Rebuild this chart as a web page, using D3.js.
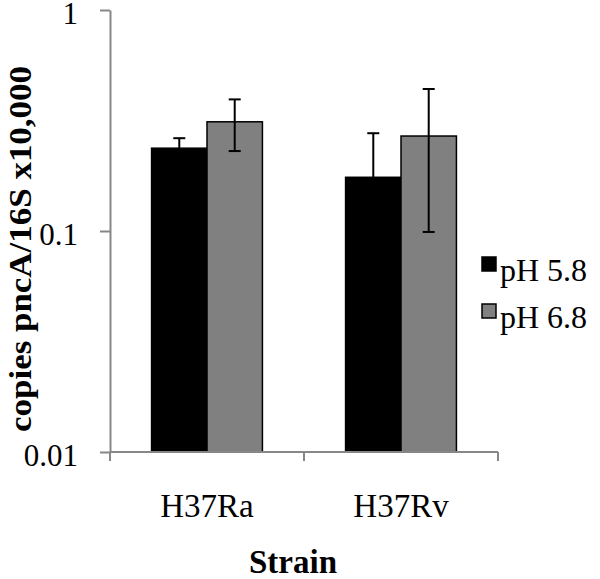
<!DOCTYPE html>
<meta charset="utf-8">
<title>pncA copies by strain</title>
<style>
  body { margin: 0; background: #fff; }
  text { font-family: "Liberation Serif", "Times New Roman", serif; }
</style>
<body>
<script src="https://d3js.org/d3.v7.min.js"></script>
<script>

var categories = ["H37Ra", "H37Rv"];
var seriesNames = ["pH 5.8", "pH 6.8"];
var means58 = [0.237, 0.175];
var means68 = [0.312, 0.269];
var err58 = [0.026, 0.102];
var err68 = [0.082, 0.170];
var yTicks = [0.01, 0.1, 1];
var yTickLabels = ["0.01", "0.1", "1"];

var colors = ["#000000", "#808080"];
var axisColor = "#878787";

var width = 600, height = 579;

var svg = d3.select("body").append("svg")
    .attr("width", width)
    .attr("height", height);

var y = d3.scaleLog().domain([0.01, 1]).range([452, 10]);
var x = d3.scaleBand().domain(categories).range([110, 498]).padding(0);
var xs = d3.scaleBand().domain(seriesNames).range([0, x.bandwidth()])
    .paddingInner(0).paddingOuter(0.75);

// build rows from the arrays
var rows = [];
categories.forEach(function(c, i) {
  rows.push({cat: c, s: seriesNames[0], v: means58[i], e: err58[i], col: colors[0]});
  rows.push({cat: c, s: seriesNames[1], v: means68[i], e: err68[i], col: colors[1]});
});

// bars
svg.selectAll("rect.bar")
  .data(rows)
  .enter().append("rect")
  .attr("class", "bar")
  .attr("x", function(d) { return x(d.cat) + xs(d.s); })
  .attr("width", xs.bandwidth())
  .attr("y", function(d) { return y(d.v); })
  .attr("height", function(d) { return y(0.01) - y(d.v); })
  .attr("fill", function(d) { return d.col; })
  .attr("stroke", "#000")
  .attr("stroke-width", 1.5);

// error bars
var eb = svg.selectAll("g.err")
  .data(rows)
  .enter().append("g")
  .attr("class", "err")
  .attr("transform", function(d) {
    return "translate(" + (x(d.cat) + xs(d.s) + xs.bandwidth() / 2) + ",0)";
  })
  .attr("stroke", "#000")
  .attr("stroke-width", 2);

eb.append("line")
  .attr("y1", function(d) { return y(d.v + d.e); })
  .attr("y2", function(d) { return y(Math.max(d.v - d.e, 0.0101)); });
eb.append("line")
  .attr("x1", -6).attr("x2", 6)
  .attr("y1", function(d) { return y(d.v + d.e); })
  .attr("y2", function(d) { return y(d.v + d.e); });
eb.append("line")
  .attr("x1", -6).attr("x2", 6)
  .attr("y1", function(d) { return y(d.v - d.e); })
  .attr("y2", function(d) { return y(d.v - d.e); });

// y axis
var yAxis = svg.append("g")
  .attr("transform", "translate(110,0)")
  .call(d3.axisLeft(y)
    .tickValues(yTicks)
    .tickFormat(function(d, i) { return yTickLabels[i]; })
    .tickSize(10)
    .tickSizeOuter(0)
    .tickPadding(22));
yAxis.select(".domain").attr("stroke", axisColor).attr("stroke-width", 2);
yAxis.selectAll(".tick line").attr("stroke", axisColor).attr("stroke-width", 2);
yAxis.selectAll(".tick text")
  .attr("fill", "#000")
  .attr("dy", "0.45em")
  .style("font-family", "'Liberation Serif', serif")
  .style("font-size", "31px");

// x axis line and boundary ticks
var xEdges = categories.map(function(c) { return x(c); }).concat([x.range()[1]]);
svg.append("line")
  .attr("x1", x.range()[0]).attr("x2", x.range()[1])
  .attr("y1", y(0.01)).attr("y2", y(0.01))
  .attr("stroke", axisColor).attr("stroke-width", 2);
svg.selectAll("line.xtick")
  .data(xEdges)
  .enter().append("line")
  .attr("class", "xtick")
  .attr("x1", function(d) { return d; }).attr("x2", function(d) { return d; })
  .attr("y1", y(0.01)).attr("y2", y(0.01) + 9)
  .attr("stroke", axisColor).attr("stroke-width", 2);

svg.selectAll("text.xlab")
  .data(categories)
  .enter().append("text")
  .attr("class", "xlab")
  .attr("x", function(d) { return x(d) + x.bandwidth() / 2; })
  .attr("y", 517)
  .attr("text-anchor", "middle")
  .style("font-size", "33px")
  .text(function(d) { return d; });

// axis titles
svg.append("text")
  .attr("x", 293).attr("y", 573)
  .attr("text-anchor", "middle")
  .style("font-size", "33px")
  .style("font-weight", "bold")
  .text("Strain");

svg.append("text")
  .attr("transform", "translate(31,249) rotate(-90)")
  .attr("text-anchor", "middle")
  .attr("textLength", 366)
  .attr("lengthAdjust", "spacingAndGlyphs")
  .style("font-size", "32px")
  .style("font-weight", "bold")
  .text("copies pncA/16S x10,000");

// legend
var leg = svg.selectAll("g.leg")
  .data(seriesNames)
  .enter().append("g")
  .attr("class", "leg")
  .attr("transform", function(d, i) { return "translate(482," + (257 + i * 47) + ")"; });
leg.append("rect")
  .attr("width", 14).attr("height", 14)
  .attr("fill", function(d, i) { return colors[i]; })
  .attr("stroke", "#000").attr("stroke-width", 1.5);
leg.append("text")
  .attr("x", 18).attr("y", 24)
  .style("font-size", "32px")
  .text(function(d) { return d; });

</script>
</body>
